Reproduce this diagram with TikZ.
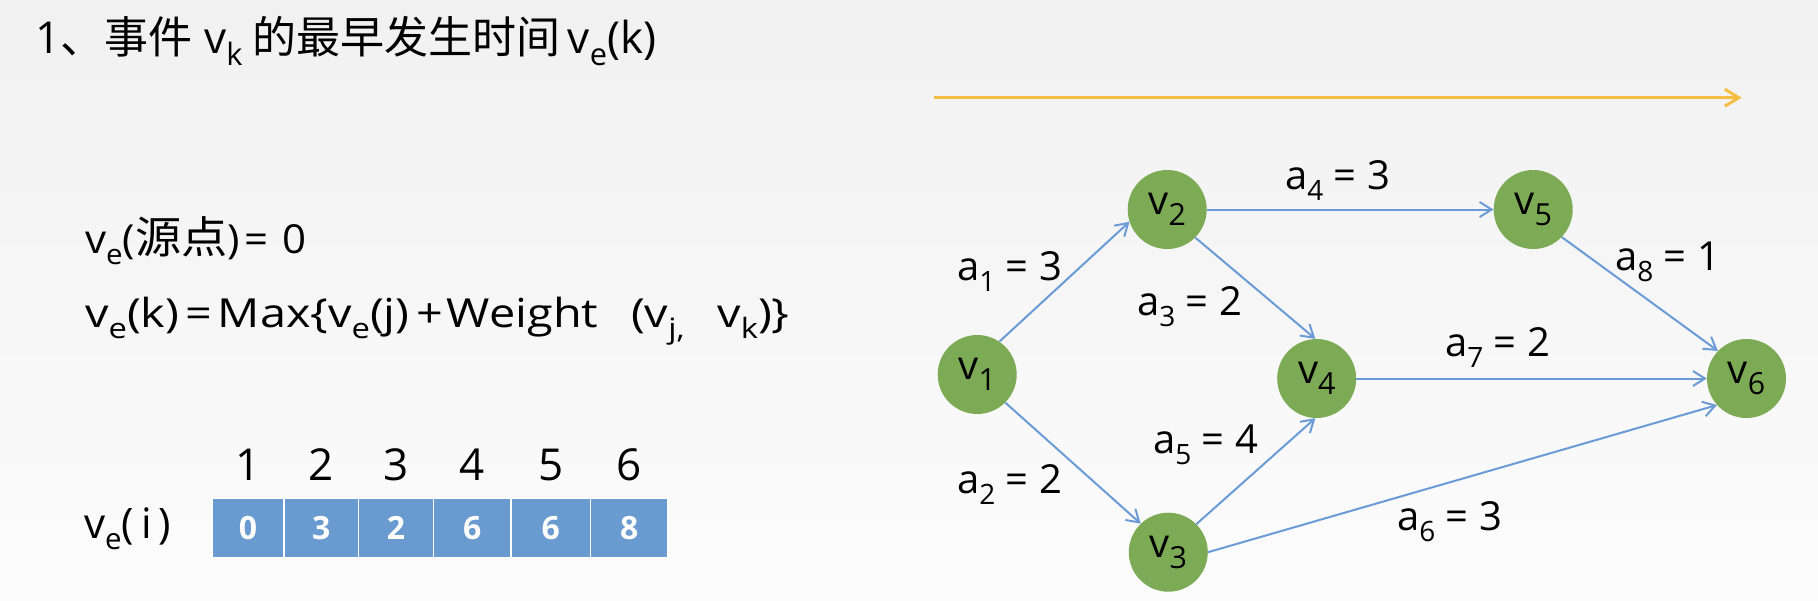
\documentclass[tikz,border=0pt]{standalone}
\usepackage{fontspec}
\setmainfont{Open Sans}
\newfontfamily\cjk{Noto Sans CJK SC}
\usetikzlibrary{arrows.meta}
\definecolor{bgtop}{HTML}{F1F1F1}
\definecolor{bgbot}{HTML}{FCFCFC}
\definecolor{nodegreen}{HTML}{7DAA55}
\definecolor{edgeblue}{HTML}{6A9BD6}
\definecolor{boxblue}{HTML}{6A9BD0}
\definecolor{arrowor}{HTML}{F5BD41}
\newcommand\sbs[2][0.7]{\raisebox{-0.28em}{\scalebox{#1}{#2}}}
\begin{document}
\begin{tikzpicture}[x=1pt,y=-1pt,
  vnode/.style={circle,fill=nodegreen,minimum size=79pt,inner sep=0pt,font=\fontsize{40}{40}\selectfont},
  edge/.style={draw=edgeblue,line width=2pt,-{Straight Barb[length=12pt,width=15pt]}},
  lbl/.style={anchor=base west,inner sep=0pt,font=\fontsize{40}{40}\selectfont},
  txt/.style={anchor=base west,inner sep=0pt,font=\fontsize{40}{40}\selectfont},
  idx/.style={anchor=base,inner sep=0pt,font=\fontsize{44}{44}\selectfont},
  cell/.style={rectangle,fill=boxblue,draw=white,line width=1.5pt,minimum height=59.4pt,inner sep=0pt,text=white,font=\fontsize{32}{32}\selectfont\bfseries},
  orangearrow/.style={draw=arrowor,line width=3pt,-{Straight Barb[length=14pt,width=17pt]}}
]
\shade[top color=bgtop,bottom color=bgbot] (0,0) rectangle (1818,600);
\useasboundingbox (0,0) rectangle (1818,600);

% title
\node[anchor=base west,inner sep=0pt,font=\fontsize{44}{44}\selectfont] (title) at (35,53.3)
  {1{\cjk 、事件}\hspace{12pt}v\sbs{k}\hspace{10pt}{\cjk 的最早发生时间}\,v\sbs{e}(k)};

% formulas
\node[txt] (f1) at (85,253) {\scalebox{1.05}[1]{v\sbs{e}({\cjk\fontsize{44}{44}\selectfont 源点})\hspace{4pt}=\hspace{14pt}0}};
\node[txt] (f2) at (85,327) {\scalebox{1.17}[1]{v\sbs{e}(k)\hspace{5pt}=\hspace{5pt}Max\{v\sbs{e}(j)\hspace{6pt}+\hspace{3pt}Weight\hspace{28pt}(v\sbs{j,}\hspace{28pt}v\sbs{k})\}}};

% array
\node[anchor=base west,inner sep=0pt,font=\fontsize{42}{42}\selectfont] (vei) at (84,538) {v\sbs{e}(\,i\,)};
\node[cell,minimum width=72pt]   (b1) at (248,528) {0};
\node[cell,minimum width=74.5pt] (b2) at (321.25,528) {3};
\node[cell,minimum width=75pt]   (b3) at (396,528) {2};
\node[cell,minimum width=77.5pt] (b4) at (472.25,528) {6};
\node[cell,minimum width=79.5pt] (b5) at (550.75,528) {6};
\node[cell,minimum width=77.5pt] (b6) at (629.25,528) {8};
\node[idx] (n1) at (248,480.7) {1};
\node[idx] (n2) at (321.25,480.7) {2};
\node[idx] (n3) at (396,480.7) {3};
\node[idx] (n4) at (472.25,480.7) {4};
\node[idx] (n5) at (550.75,480.7) {5};
\node[idx] (n6) at (629.25,480.7) {6};

% orange arrow
\coordinate (os) at (934,97.7);
\coordinate (oe) at (1741.7,97.7);
\draw[orangearrow] (os) -- (oe);

% graph nodes
\node[vnode] (v1) at (977.2,374.5) {v\sbs[0.76]{1}};
\node[vnode] (v2) at (1167.2,209.5) {v\sbs[0.76]{2}};
\node[vnode] (v3) at (1168.3,552.2) {v\sbs[0.76]{3}};
\node[vnode] (v4) at (1316.7,378.5) {v\sbs[0.76]{4}};
\node[vnode] (v5) at (1533.2,209.5) {v\sbs[0.76]{5}};
\node[vnode] (v6) at (1746.5,378.5) {v\sbs[0.76]{6}};

% edges
\draw[edge] (v1.56) -- (v2.198);
\draw[edge] (v1.-45) -- (v3.134);
\draw[edge] (v2.-45) -- (v4.92);
\draw[edge] (v2.east) -- (v5.west);
\draw[edge] (v3.45) -- (v4.268);
\draw[edge] (v3.east) -- (v6.222);
\draw[edge] (v4.east) -- (v6.west);
\draw[edge] (v5.-44) -- (v6.136);

% edge labels
\node[lbl] (l1) at (957,280.7) {a\sbs{1} = 3};
\node[lbl] (l2) at (957,493.3) {a\sbs{2} = 2};
\node[lbl] (l3) at (1137,315) {a\sbs{3} = 2};
\node[lbl] (l4) at (1285,189) {a\sbs{4} = 3};
\node[lbl] (l5) at (1153,453.3) {a\sbs{5} = 4};
\node[lbl] (l6) at (1397,530) {a\sbs{6} = 3};
\node[lbl] (l7) at (1445,356.7) {a\sbs{7} = 2};
\node[lbl] (l8) at (1615,270) {a\sbs{8} = 1};
\end{tikzpicture}
\end{document}
